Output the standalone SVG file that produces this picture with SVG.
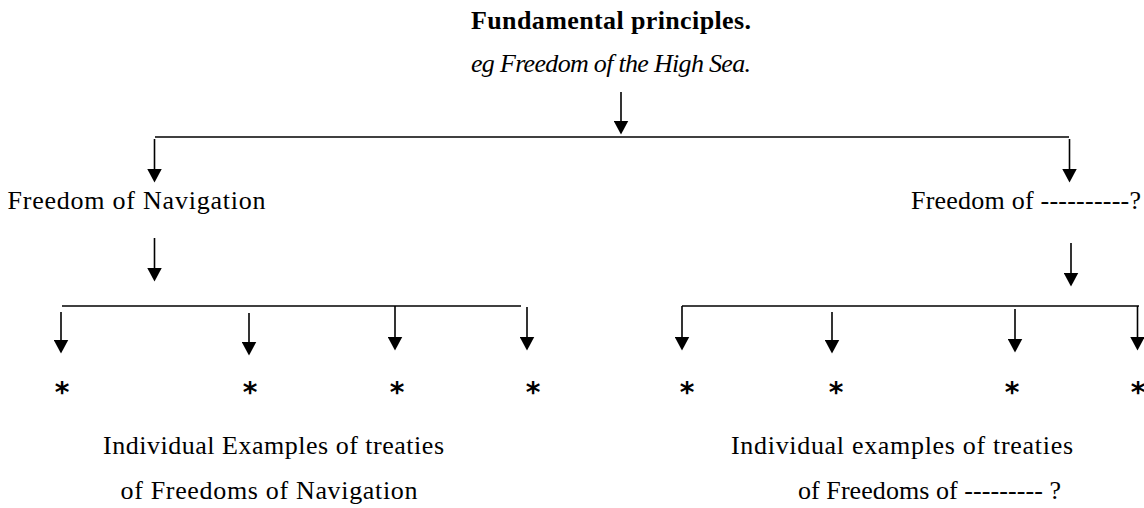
<svg xmlns="http://www.w3.org/2000/svg" width="1144" height="508" viewBox="0 0 1144 508">
  <style>
    .t { font-family: "Liberation Serif", "Times New Roman", serif; font-size: 26px; fill: #000; }
    .b { font-weight: bold; }
    .i { font-style: italic; }
    .star { font-family: "DejaVu Sans", sans-serif; font-size: 28px; font-weight: bold; fill: #000; text-anchor: middle; }
    .ln { stroke: #000; stroke-width: 1.6; fill: none; }
    .ar { stroke: #000; stroke-width: 1.6; fill: none; marker-end: url(#ah); }
  </style>
  <defs>
    <marker id="ah" markerUnits="userSpaceOnUse" markerWidth="15" markerHeight="15" refX="0.5" refY="7.5" orient="auto">
      <path d="M0,0 L14,7.5 L0,15 Z" fill="#000"/>
    </marker>
  </defs>
  <rect x="0" y="0" width="1144" height="508" fill="#fff"/>

  <g id="root">
    <text class="t b" x="471" y="29" textLength="280" lengthAdjust="spacing">Fundamental principles.</text>
    <text class="t i" x="471" y="72" textLength="280" lengthAdjust="spacing">eg Freedom of the High Sea.</text>
  </g>
  <g id="nav">
    <text class="t" x="7.5" y="209" textLength="258" lengthAdjust="spacing">Freedom of Navigation</text>
  </g>
  <g id="other">
    <text class="t" x="911" y="209" textLength="230" lengthAdjust="spacing">Freedom of ----------?</text>
  </g>
  <g id="nav-examples">
    <text class="star" x="62" y="402">*</text>
    <text class="star" x="250" y="402">*</text>
    <text class="star" x="397" y="402">*</text>
    <text class="star" x="533" y="402">*</text>
    <text class="t" x="103" y="454" textLength="341" lengthAdjust="spacing">Individual Examples of treaties</text>
    <text class="t" x="120.5" y="499" textLength="297" lengthAdjust="spacing">of Freedoms of Navigation</text>
  </g>
  <g id="other-examples">
    <text class="star" x="687" y="402">*</text>
    <text class="star" x="836" y="402">*</text>
    <text class="star" x="1012" y="402">*</text>
    <text class="star" x="1138" y="402">*</text>
    <text class="t" x="731" y="454" textLength="342" lengthAdjust="spacing">Individual examples of treaties</text>
    <text class="t" x="798" y="499" textLength="263" lengthAdjust="spacing">of Freedoms of --------- ?</text>
  </g>

  <g id="connectors">
    <line class="ar" x1="621" y1="92" x2="621" y2="121"/>
    <line class="ln" x1="155" y1="137" x2="1069" y2="137"/>
    <line class="ar" x1="154.5" y1="139" x2="154.5" y2="169"/>
    <line class="ar" x1="1069.5" y1="139" x2="1069.5" y2="169"/>
    <line class="ar" x1="154.5" y1="238" x2="154.5" y2="268"/>
    <line class="ar" x1="1071" y1="243" x2="1071" y2="273"/>

    <line class="ln" x1="62" y1="306" x2="521" y2="306"/>
    <line class="ar" x1="61" y1="312" x2="61" y2="340"/>
    <line class="ar" x1="249" y1="313" x2="249" y2="342"/>
    <line class="ar" x1="395" y1="306" x2="395" y2="337"/>
    <line class="ar" x1="527" y1="307" x2="527" y2="337"/>

    <line class="ln" x1="682" y1="306" x2="1139" y2="306"/>
    <line class="ar" x1="682" y1="306" x2="682" y2="337"/>
    <line class="ar" x1="832" y1="312" x2="832" y2="340"/>
    <line class="ar" x1="1015" y1="309" x2="1015" y2="339"/>
    <line class="ar" x1="1137.5" y1="306" x2="1137.5" y2="337"/>
  </g>
</svg>
